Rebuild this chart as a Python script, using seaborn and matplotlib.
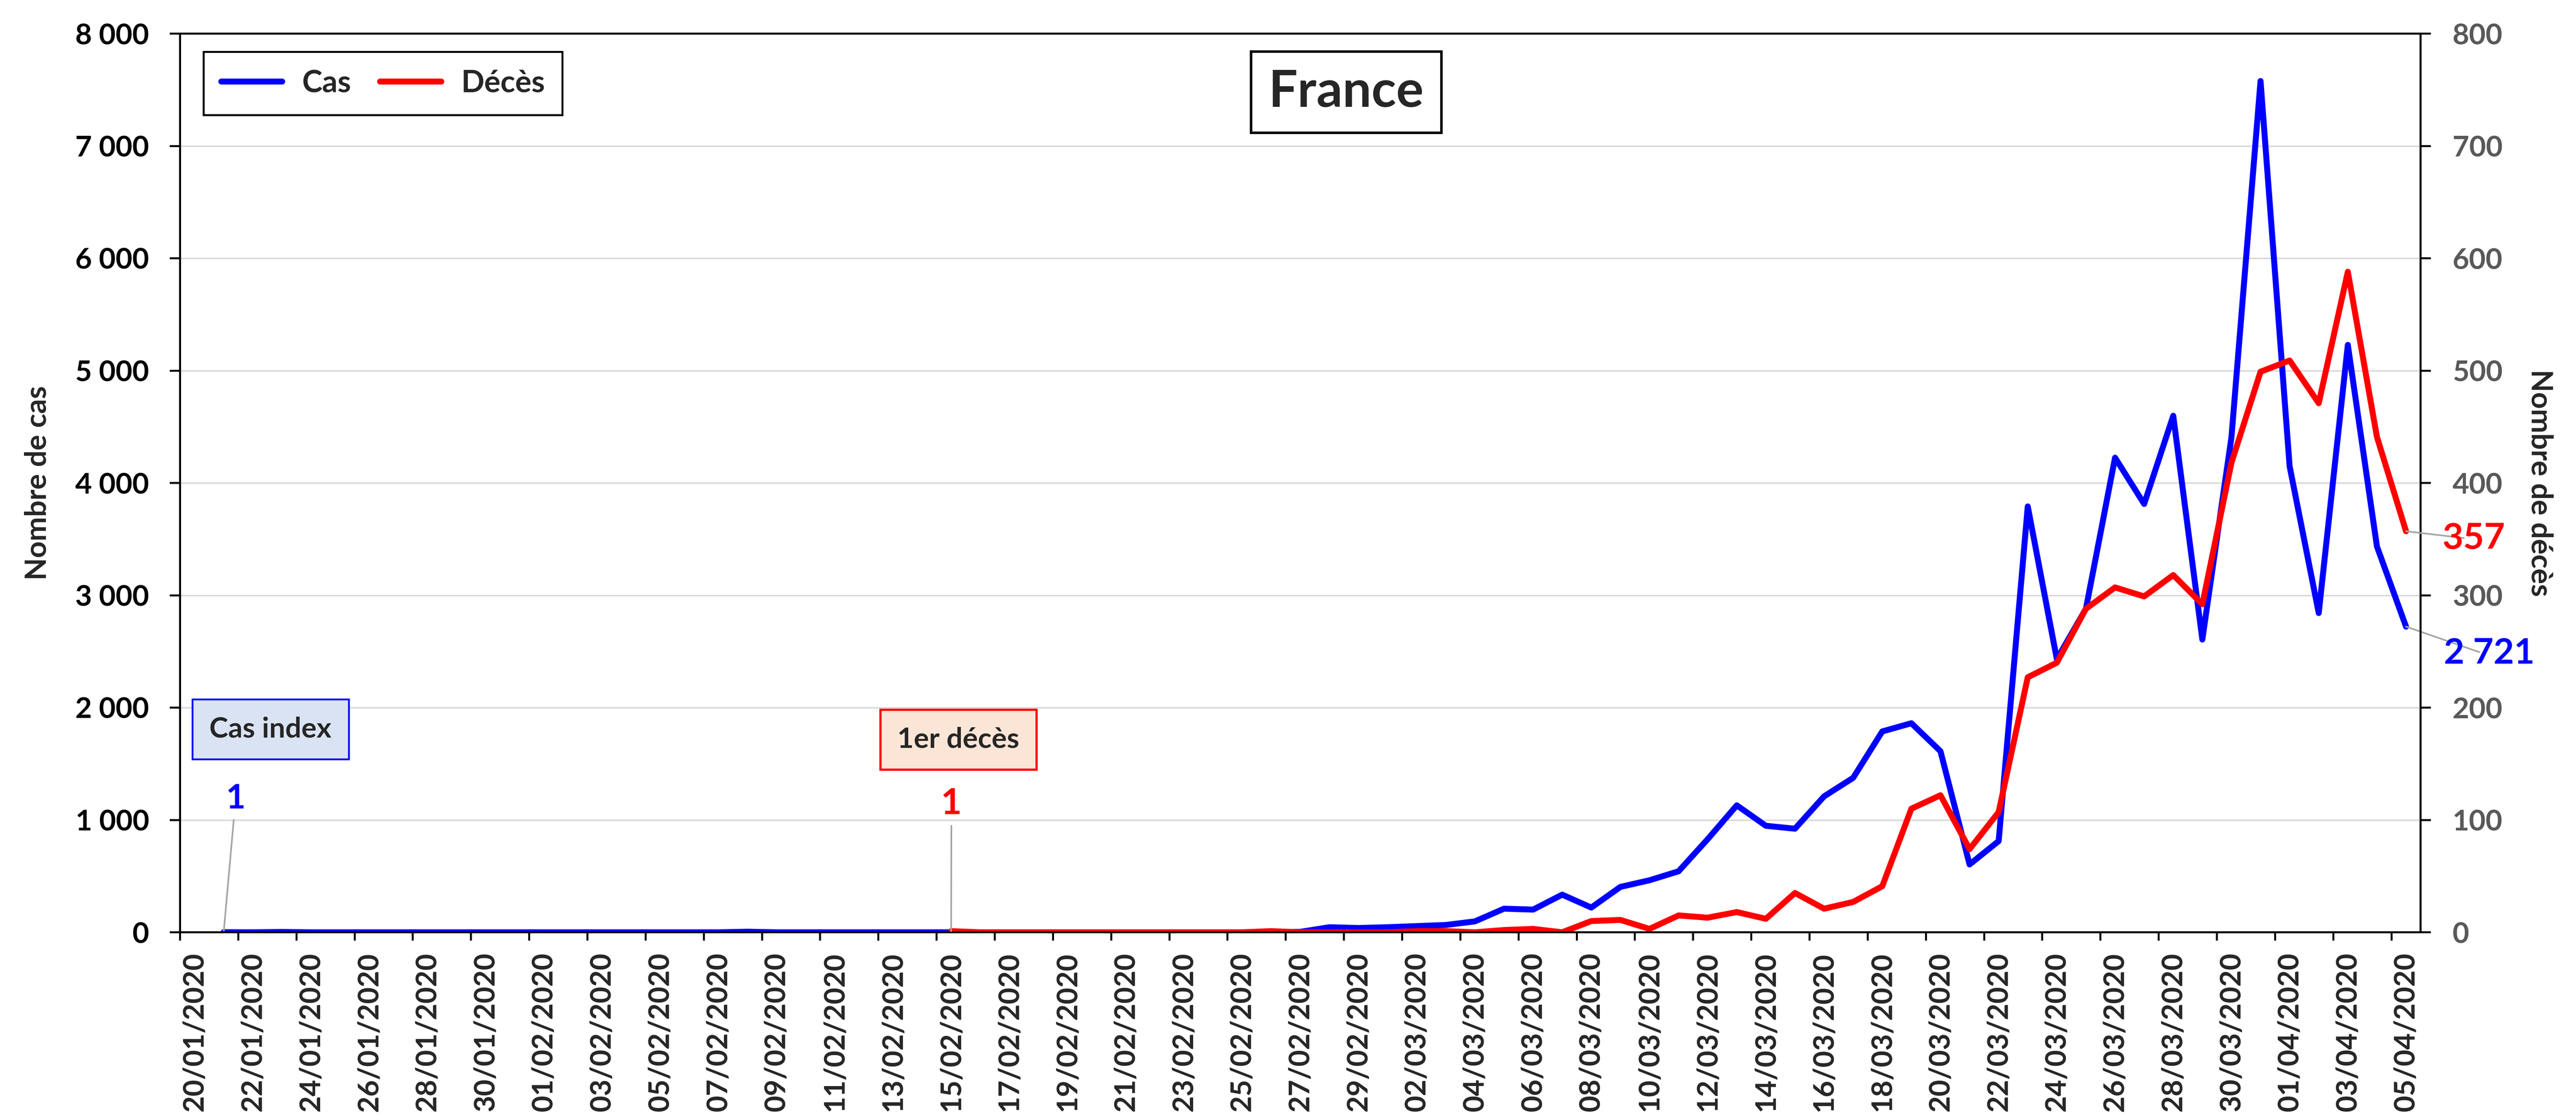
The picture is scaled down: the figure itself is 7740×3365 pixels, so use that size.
import matplotlib
matplotlib.use('Agg')
import matplotlib.pyplot as plt
import numpy as np
import pandas as pd
import seaborn as sns

# categories: one per day, 20/01/2020 -> 05/04/2020
dates = pd.date_range('2020-01-20', '2020-04-05', freq='D')
date_labels = dates.strftime('%d/%m/%Y').tolist()

# daily new cases, from 21/01/2020
cas_start = '21/01/2020'
cas = [1, 0, 3, 0, 0, 0, 0, 0, 0, 0, 0, 0, 0, 0, 0, 0, 0, 0,
       5, 0, 0, 0, 0, 0, 0, 0, 0, 0, 0, 0, 0, 0, 0, 0, 0, 0,
       2, 4, 45, 38, 45, 55, 65, 97, 210, 202, 335, 220, 404, 463,
       543, 829, 1130, 948, 922, 1210, 1375, 1788, 1861, 1612, 604, 812,
       3791, 2431, 2881, 4225, 3813, 4598, 2606, 4406, 7578, 4148, 2842,
       5229, 3435, 2721]

# daily deaths, from 15/02/2020
deces_start = '15/02/2020'
deces = [1, 0, 0, 0, 0, 0, 0, 0, 0, 0, 0, 1, 0, 0, 0, 0, 1, 1, 0,
         2, 3, 0, 10, 11, 3, 15, 13, 18, 12, 35, 21, 27, 41, 110, 122,
         74, 107, 227, 240, 288, 307, 299, 318, 292, 418, 499, 509, 471,
         588, 441, 357]

df = pd.DataFrame({'jour': np.arange(len(date_labels)), 'date': date_labels})
i0 = date_labels.index(cas_start)
j0 = date_labels.index(deces_start)
df['cas'] = np.nan
df.loc[i0:i0 + len(cas) - 1, 'cas'] = cas
df['deces'] = np.nan
df.loc[j0:j0 + len(deces) - 1, 'deces'] = deces
n = len(df)

sns.set_style('white')
plt.rcParams['font.family'] = ['Lato', 'DejaVu Sans']
plt.rcParams['font.weight'] = 'bold'
plt.rcParams['axes.labelweight'] = 'bold'

BLUE = '#0000FF'
RED = '#FF0000'
GREY = '#A6A6A6'
LW = 4.3

W, H = 7740, 3365
fig = plt.figure(figsize=(W / 300, H / 300), dpi=300)
ax = fig.add_axes([541 / W, 1 - 2801 / H, (7273 - 541) / W, 2700 / H])
ax2 = ax.twinx()

sns.lineplot(data=df, x='jour', y='cas', ax=ax, color=BLUE, lw=LW,
             errorbar=None, solid_capstyle='round', solid_joinstyle='round')
sns.lineplot(data=df, x='jour', y='deces', ax=ax2, color=RED, lw=LW,
             errorbar=None, solid_capstyle='round', solid_joinstyle='round')

# axes ranges and ticks
ax.set_xlim(-0.5, n - 0.5)
ax.set_ylim(0, 8000)
ax2.set_ylim(0, 800)

ax.set_xticks(df['jour'][::2])
ax.set_xticklabels(df['date'][::2], rotation=90)
ax.set_xticks(np.arange(-0.5, n, 1), minor=True)
ax.tick_params(axis='x', which='major', length=0, pad=14.6, labelsize=20.6)
ax.tick_params(axis='x', which='minor', length=4.3, width=1.4, direction='out',
               color='black')
sec = ax.secondary_xaxis('bottom')
sec.set_xticks(np.arange(-0.5, n, 2))
sec.tick_params(length=6, width=1.4, labelbottom=False, color='black')
sec.spines['bottom'].set_visible(False)

yt = np.arange(0, 8001, 1000)
ax.set_yticks(yt)
ax.set_yticklabels([f'{v:,}'.replace(',', ' ') for v in yt])
ax.tick_params(axis='y', length=7.4, width=1.4, pad=14.9, labelsize=20.8,
               labelcolor='black', color='black', left=True)
yt2 = np.arange(0, 801, 100)
ax2.set_yticks(yt2)
ax2.set_yticklabels([str(v) for v in yt2])
ax2.tick_params(axis='y', length=7.4, width=1.4, pad=15.6, labelsize=20.8,
                labelcolor='#595959', color='black', right=True)

ax.grid(axis='y', color='#D9D9D9', lw=1.1)
ax.grid(axis='x', visible=False)
ax.set_axisbelow(True)
for a in (ax, ax2):
    for s in a.spines.values():
        s.set_color('black')
        s.set_linewidth(1.4)

ax.set_xlabel('')
ax2.set_xlabel('')
ax.set_ylabel('Nombre de cas', fontsize=21)
ax.yaxis.set_label_coords(-0.0576, 0.5)
ax2.set_ylabel('Nombre de décès', fontsize=21, rotation=270, va='bottom')
ax2.yaxis.set_label_coords(1.0473, 0.5)

# legend
leg = ax2.legend([ax.lines[0], ax2.lines[0]], ['Cas', 'Décès'], loc='upper left',
                 bbox_to_anchor=(0.0105, 0.9796), ncol=2, frameon=True,
                 fancybox=False, edgecolor='black', framealpha=1, fontsize=22,
                 handlelength=2.0, handletextpad=0.65, columnspacing=0.95,
                 borderpad=0.58, borderaxespad=0)
leg.get_frame().set_linewidth(1.4)

# title box
ax2.text(0.5205, 0.9348, 'France', transform=ax2.transAxes, ha='center',
         va='center', fontsize=37,
         bbox=dict(boxstyle='square,pad=0.34', fc='white', ec='black', lw=1.8))

# event boxes
ax.text(2.61, 1807, 'Cas index', ha='center', va='center', fontsize=20.5,
        bbox=dict(boxstyle='square,pad=0.6', fc='#DAE3F3', ec=BLUE, lw=1.3))
ax2.text(26.25, 171.6, '1er décès', ha='center', va='center', fontsize=20.5,
         bbox=dict(boxstyle='square,pad=0.6', fc='#FBE5D6', ec=RED, lw=1.6))

# first values
ax.annotate('1', xy=(i0, cas[0]), xytext=(i0 + 0.41, 1188), ha='center',
            va='center', color=BLUE, fontsize=24.5,
            arrowprops=dict(arrowstyle='-', color=GREY, lw=1.2, shrinkB=0))
ax2.annotate('1', xy=(j0, deces[0]), xytext=(j0 + 0.01, 114.4), ha='center',
             va='center', color=RED, fontsize=26,
             arrowprops=dict(arrowstyle='-', color=GREY, lw=1.2, shrinkB=0))

# last values
leader = dict(arrowstyle='-', color=GREY, lw=1.2, patchA=None, shrinkA=7.2,
              shrinkB=0,
              connectionstyle='arc,angleA=180,armA=16,angleB=0,armB=0,rad=0')
ax2.annotate(f'{deces[-1]}', xy=(n - 1, deces[-1]), xytext=(n + 0.25, 350.5),
             ha='left', va='center', color=RED, fontsize=26,
             arrowprops=leader, annotation_clip=False)
ax.annotate(f'{cas[-1]:,}'.replace(',', ' '), xy=(n - 1, cas[-1]),
            xytext=(n + 0.3, 2480), ha='left', va='center', color=BLUE,
            fontsize=25.5, arrowprops=leader, annotation_clip=False)

fig.savefig('out.png', dpi=300)
